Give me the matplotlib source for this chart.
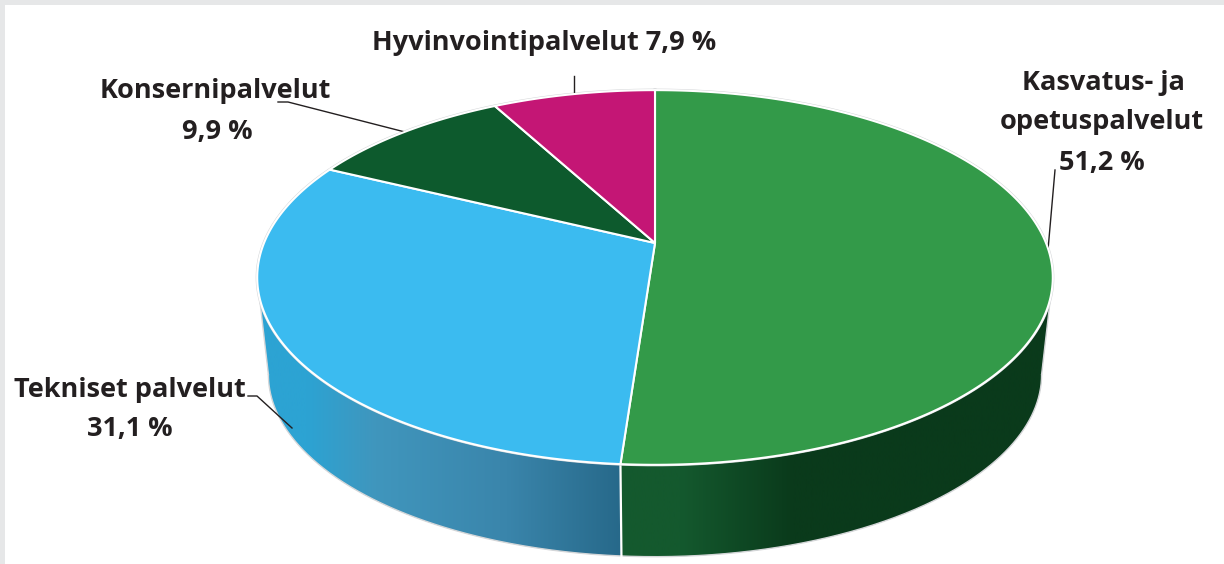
import numpy as np
import matplotlib
matplotlib.use("Agg")
import matplotlib.pyplot as plt
from matplotlib.colors import LinearSegmentedColormap
from matplotlib.patches import Polygon, Rectangle

# === Data ===
names = ["Kasvatus- ja\nopetuspalvelut", "Tekniset palvelut", "Konsernipalvelut", "Hyvinvointipalvelut"]
values = [51.2, 31.1, 9.9, 7.9]

# === Styles ===
top_colors = ["#339a49", "#3bbbf0", "#0d5a2d", "#c41675"]
text_color = "#231f20"
frame_color = "#e6e7e8"
side_green = LinearSegmentedColormap.from_list(
    "green", [(0, "#0a3a1b"), (0.6, "#0a3a1b"), (0.86, "#14592e"), (1, "#14592e")])
side_blue = LinearSegmentedColormap.from_list(
    "blue", [(0, "#2ca3d3"), (0.14, "#2ca3d3"), (0.33, "#4096bd"), (0.69, "#3a85ab"), (1, "#27698a")])
PERSP = 0.184


# --- perspective view of a flat disc, angle 0 at 12 o'clock, clockwise ---
def disc(theta, cx, cy, a, b, k=PERSP):
    u = np.sin(theta)
    v = -np.cos(theta)
    w = 1 - k * v
    return cx + a * u / w, cy + b * v / w


def top_disc(theta):
    return disc(theta, 655, 243, 391, 181)


def low_disc(theta):
    return disc(theta, 655, 341, 380, 176)


fig = plt.figure(figsize=(12.24, 5.64), dpi=100)
ax = fig.add_axes([0, 0, 1, 1])

# === Frame ===
ax.add_patch(Rectangle((0, 0), 1224, 5, color=frame_color, lw=0))
ax.add_patch(Rectangle((0, 0), 5, 564, color=frame_color, lw=0))

edges = 2 * np.pi * np.cumsum([0] + values) / sum(values)
rim = np.arccos(-PERSP)  # where the disc outline turns back

# === Side wall, gradient runs along x and is clipped to the wall outline ===
split_x = top_disc(edges[1])[0]
walls = [
    (rim, edges[1], side_green, (1053, split_x)),
    (edges[1], 2 * np.pi - rim, side_blue, (255, split_x)),
]
ramp = np.linspace(0, 1, 512).reshape(1, -1)
for start, stop, cmap, (x_a, x_b) in walls:
    t = np.linspace(start, stop, 300)
    xt, yt = top_disc(t)
    xb, yb = low_disc(t)
    wall = Polygon(np.c_[np.r_[xt, xb[::-1]], np.r_[yt, yb[::-1]]], closed=True, facecolor="none", lw=0)
    ax.add_patch(wall)
    im = ax.imshow(ramp, cmap=cmap, extent=(x_a, x_b, 564, 0), aspect="auto", zorder=1, interpolation="bilinear")
    im.set_clip_path(wall)
    ax.plot(xb, yb, color="#d4d6d8", lw=1.0, zorder=1.2)
    ax.plot([xt[0], xb[0]] if start == rim else [xt[-1], xb[-1]],
            [yt[0], yb[0]] if start == rim else [yt[-1], yb[-1]], color="#d4d6d8", lw=1.0, zorder=1.2)

# white line between the two side walls
x0, y0 = top_disc(edges[1])
x1, y1 = low_disc(edges[1])
ax.plot([x0, x1], [y0, y1], color="white", lw=1.6, zorder=1.4)

# === Top face ===
t = np.linspace(0, 2 * np.pi, 600)
x, y = top_disc(t)
ax.plot(x, y, color="#d4d6d8", lw=2.2, zorder=1.5)
for i in range(4):
    t = np.linspace(edges[i], edges[i + 1], 200)
    x, y = top_disc(t)
    ax.fill(np.r_[655, x], np.r_[243, y], facecolor=top_colors[i], edgecolor="white", lw=1.5,
            joinstyle="round", zorder=2)

# === Leader lines ===
leaders = [
    ([1055, 1048], [170, 250]),
    ([248, 257, 292], [396, 396, 428]),
    ([278, 288, 405], [102, 102, 132]),
    ([574, 574], [76, 95]),
]
for lx, ly in leaders:
    ax.plot(lx, ly, color=text_color, lw=1.0, zorder=1.8)

# === Labels ===
label_x = [[1103, 1102, 1102], [130, 130], [215, 217]]
label_y = [[83, 122, 163], [390, 429], [91, 132]]
font = dict(family="Open Sans", fontweight="bold", fontsize=19.5, color=text_color, ha="center", va="center")
for i in range(3):
    pct = f"{values[i]:.1f} %".replace(".", ",")
    lines = names[i].split("\n") + [pct]
    for line, xpos, ypos in zip(lines, label_x[i], label_y[i]):
        ax.text(xpos, ypos, line, **font)
ax.text(544, 43, f"{names[3]} {values[3]:.1f} %".replace(".", ","), **font)

ax.set_xlim(0, 1224)
ax.set_ylim(564, 0)
ax.axis("off")

fig.savefig("out.png", dpi=100)
